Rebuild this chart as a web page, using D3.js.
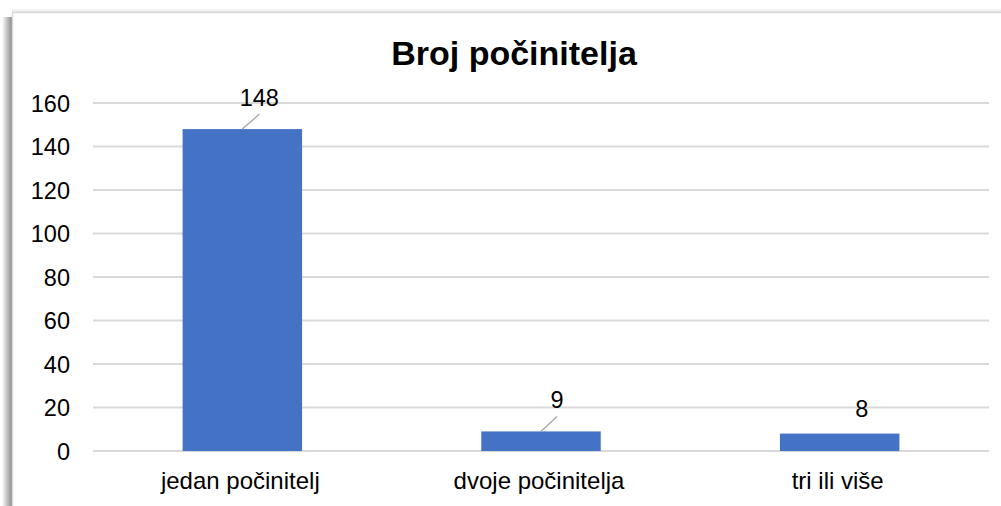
<!DOCTYPE html>
<html><head><meta charset="utf-8">
<script src="https://cdn.jsdelivr.net/npm/d3@7"></script>
<style>body{margin:0;background:#fff;}svg{display:block;font-family:"Liberation Sans",Arial,sans-serif;}</style>
</head><body>
<svg id="c" width="1001" height="506"></svg>
<script>
const title = "Broj počinitelja";
const categories = ["jedan počinitelj", "dvoje počinitelja", "tri ili više"];
const values = [148, 9, 8];
const yTicks = [0, 20, 40, 60, 80, 100, 120, 140, 160];

(function () {
const svg = d3.select("#c");
const W = 1001, H = 506;

// frame shadow
const defs = svg.append("defs");
const gl = defs.append("linearGradient").attr("id","shL").attr("x1","0").attr("x2","1").attr("y1","0").attr("y2","0");
gl.append("stop").attr("offset","0").attr("stop-color","#fff");
gl.append("stop").attr("offset","0.6").attr("stop-color","#b8b8b8");
gl.append("stop").attr("offset","1").attr("stop-color","#8c8c8c");
const gt = defs.append("linearGradient").attr("id","shT").attr("x1","0").attr("x2","0").attr("y1","0").attr("y2","1");
gt.append("stop").attr("offset","0").attr("stop-color","#fff");
gt.append("stop").attr("offset","1").attr("stop-color","#e6e6e6");
svg.append("rect").attr("x",2).attr("y",17).attr("width",10).attr("height",H-17).attr("fill","url(#shL)");
svg.append("rect").attr("x",12).attr("y",8).attr("width",W-12).attr("height",4).attr("fill","url(#shT)");
svg.append("rect").attr("x",12.5).attr("y",12.5).attr("width",W+10).attr("height",H+10)
  .attr("fill","#fff").attr("stroke","#d9d9d9").attr("stroke-width",1.5);

const pl = 93, pr = 989, pt = 103, pb = 451;
const x = d3.scaleBand().domain(categories).range([pl, pr]).paddingInner(0.6).paddingOuter(0.3);
const y = d3.scaleLinear().domain([0, 160]).range([pb, pt]);

// gridlines
svg.append("g").selectAll("line").data(yTicks).join("line")
  .attr("x1", pl).attr("x2", pr)
  .attr("y1", d => y(d)).attr("y2", d => y(d))
  .attr("stroke", "#d9d9d9").attr("stroke-width", 2);

// y axis labels
const yAxis = d3.axisLeft(y).tickValues(yTicks).tickSize(0).tickPadding(0);
const yg = svg.append("g").attr("transform", `translate(70,0)`).call(yAxis);
yg.select(".domain").remove();
yg.selectAll("text").attr("font-size", 23.5).attr("fill", "#000").attr("font-family", "Liberation Sans, Arial, sans-serif").attr("dy","0.36em");

// bars
svg.append("g").selectAll("rect").data(values).join("rect")
  .attr("x", (d,i) => x(categories[i]))
  .attr("width", x.bandwidth())
  .attr("y", d => y(d))
  .attr("height", d => y(0) - y(d))
  .attr("fill", "#4472c4");

// x axis labels
const xAxis = d3.axisBottom(x).tickSize(0).tickPadding(0);
const xg = svg.append("g").attr("transform", `translate(0,${pb})`).call(xAxis);
xg.select(".domain").remove();
xg.selectAll("text").attr("font-size", 24).attr("fill", "#000").attr("font-family", "Liberation Sans, Arial, sans-serif").attr("dy", null).attr("y", 38).attr("dx", -2);

// data labels with leader lines
const labelDx = [17, 16, 22];
const labelDy = [23, 23, 17];
const lg = svg.append("g");
values.forEach((v, i) => {
  const cx = x(categories[i]) + x.bandwidth() / 2;
  const ty = y(v);
  if (labelDy[i] > 20) {
    lg.append("line").attr("x1", cx).attr("y1", ty).attr("x2", cx + labelDx[i]).attr("y2", ty - 15)
      .attr("stroke", "#a6a6a6").attr("stroke-width", 1.3);
  }
  lg.append("text").attr("x", cx + labelDx[i]).attr("y", ty - labelDy[i])
    .attr("text-anchor", "middle").attr("font-size", 23.5).attr("fill", "#000").text(v);
});

// title
svg.append("text").attr("x", 514).attr("y", 65).attr("text-anchor", "middle")
  .attr("font-size", 34).attr("font-weight", "bold").attr("fill", "#000").text(title);
})();
</script>
</body></html>
